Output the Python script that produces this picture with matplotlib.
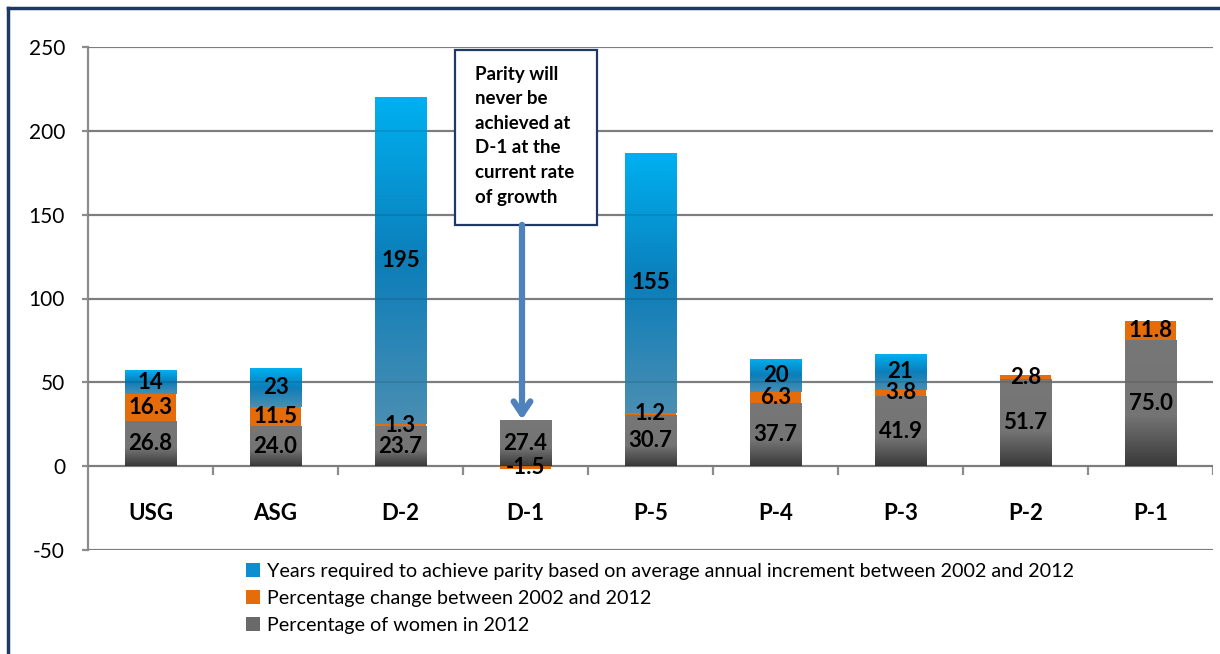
import numpy as np
import matplotlib
matplotlib.use("Agg")
import matplotlib.pyplot as plt
from matplotlib.colors import LinearSegmentedColormap
from matplotlib.patches import Rectangle
from matplotlib.lines import Line2D

plt.rcParams['font.family'] = ['Lato', 'DejaVu Sans']
plt.rcParams['axes.unicode_minus'] = False

# === Data ===
categories = ['USG', 'ASG', 'D-2', 'D-1', 'P-5', 'P-4', 'P-3', 'P-2', 'P-1']
women_2012 = [26.8, 24.0, 23.7, 27.4, 30.7, 37.7, 41.9, 51.7, 75.0]
pct_change = [16.3, 11.5, 1.3, -1.5, 1.2, 6.3, 3.8, 2.8, 11.8]
years_parity = [14, 23, 195, None, 155, 20, 21, None, None]

legend_labels = ["Years required to achieve parity based on average annual increment between 2002 and 2012",
                 "Percentage change between 2002 and 2012",
                 "Percentage of women in 2012"]
note_text = "Parity will\nnever be\nachieved at\nD-1 at the\ncurrent rate\nof growth"

# gradients, top -> bottom
blue_cmap = LinearSegmentedColormap.from_list("b", [(0, "#00B0F0"), (0.5, "#0C7EBA"), (1, "#4A8EB2")])
gray_cmap = LinearSegmentedColormap.from_list("g", [(0, "#777777"), (0.6, "#747474"), (1, "#3A3A3A")])
orange = "#E46C0A"
navy = "#1F3864"
grid_col = "#8C8C8C"

fig = plt.figure(figsize=(12.2, 6.54), dpi=100)
ax = fig.add_axes([88 / 1220, 1 - 550 / 654, (1213 - 88) / 1220, (550 - 47) / 654])
width = 0.41


def grad_bar(x, bottom, height, cmap):
    rect = Rectangle((x - width / 2, bottom), width, height, facecolor='none', edgecolor='none', zorder=2)
    ax.add_patch(rect)
    img = np.linspace(1, 0, 200).reshape(-1, 1)  # bottom row = 1 (origin lower)
    im = ax.imshow(img, cmap=cmap, vmin=0, vmax=1, aspect='auto', origin='lower',
                   extent=[x - width / 2, x + width / 2, bottom, bottom + height], zorder=2)
    im.set_clip_path(rect)


for i, cat in enumerate(categories):
    w = women_2012[i]
    c = pct_change[i]
    grad_bar(i, 0, w, gray_cmap)
    cb = w if c > 0 else 0
    ax.add_patch(Rectangle((i - width / 2, cb), width, c, facecolor=orange, edgecolor='none', zorder=2))
    ax.text(i, w / 2, f"{w:.1f}", ha='center', va='center', fontsize=16, fontweight='bold', zorder=5)
    ax.text(i, cb + c / 2, f"{c:.1f}", ha='center', va='center', fontsize=16, fontweight='bold', zorder=5)
    y = years_parity[i]
    if y is not None:
        grad_bar(i, w + c, y, blue_cmap)
        ax.text(i, w + c + y / 2, f"{y:d}", ha='center', va='center', fontsize=16, fontweight='bold', zorder=5)
    ax.text(i, -28.5, cat, ha='center', va='center', fontsize=16, fontweight='bold')

ax.set_xlim(-0.5, 8.5)
ax.set_ylim(-50, 250)

# grid
yt = np.arange(-50, 251, 50)
for v in yt:
    ax.axhline(v, color=grid_col, lw=1.6, zorder=1)
    ax.axhline(v, color='black', lw=1.2, alpha=0.12, zorder=3)
ax.vlines(np.arange(0.5, 9, 1), -5, 0, color=grid_col, lw=1.6, zorder=1)

for s in ['top', 'right', 'bottom']:
    ax.spines[s].set_visible(False)
ax.spines['left'].set_color(grid_col)
ax.spines['left'].set_linewidth(1.6)
ax.set_yticks(yt)
ax.set_xticks([])
ax.tick_params(axis='y', length=4.5, width=1.6, color=grid_col, labelsize=15, pad=12)

# annotation box + arrow
ax.add_patch(Rectangle((2.436, 143.9), 3.572 - 2.436, 248.2 - 143.9, facecolor='white',
                       edgecolor=navy, lw=1.6, zorder=6, clip_on=False))
ax.text(2.596, 238.8, note_text, ha='left', va='top', fontsize=13.5, fontweight='bold',
        linespacing=1.54, zorder=7)
ax.annotate("", xy=(2.972, 27.8), xytext=(2.972, 143.9),
            arrowprops=dict(arrowstyle='->,head_length=0.9,head_width=0.6', lw=4.5,
                            color="#4F81BD", shrinkA=0, shrinkB=0), zorder=6)

# legend
handles = [Rectangle((0, 0), 1, 1, facecolor=c) for c in ["#0C8FD0", orange, "#6A6A6A"]]
fig.legend(handles, legend_labels, loc='upper left', bbox_to_anchor=(236 / 1220, 1 - 553 / 654),
           frameon=False, fontsize=14.2, handlelength=0.7, handleheight=0.7, handletextpad=0.35,
           labelspacing=0.5, borderpad=0)

# outer frame (left and top edges)
fig.add_artist(Line2D([8 / 1220, 8 / 1220], [0, 1 - 8 / 654], color=navy, lw=2.5))
fig.add_artist(Line2D([8 / 1220, 1], [1 - 8 / 654, 1 - 8 / 654], color=navy, lw=2.5))

fig.savefig("out.png", dpi=100)
